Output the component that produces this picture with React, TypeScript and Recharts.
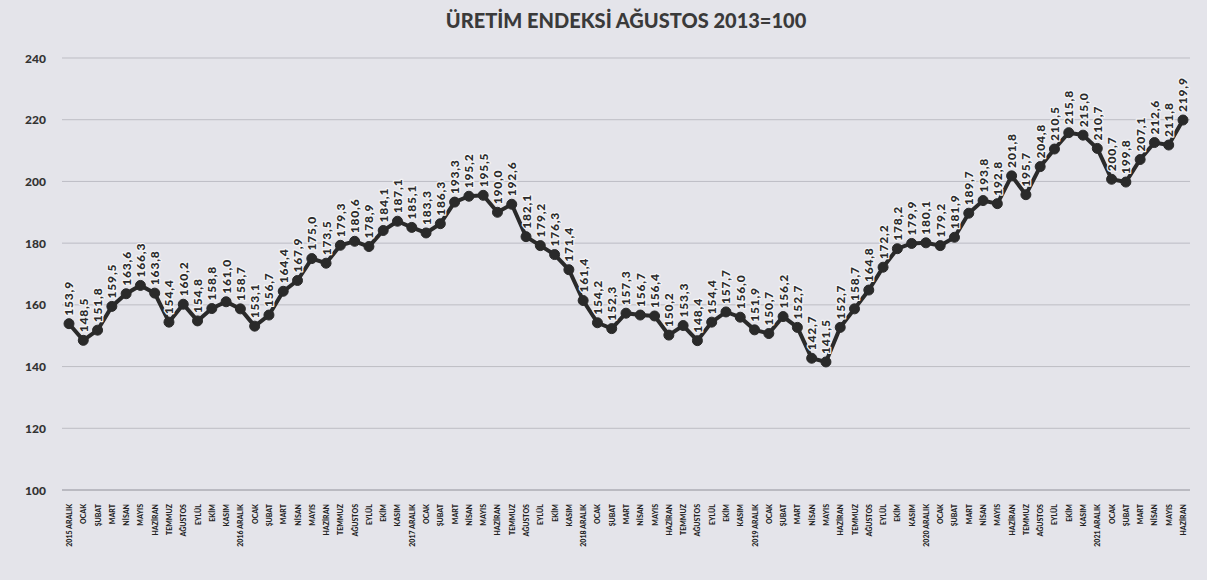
import { LineChart, Line, XAxis, YAxis, CartesianGrid, LabelList } from 'recharts';

// Üretim endeksi, Aralık 2015 - Haziran 2022 (Ağustos 2013=100)
const monthNames = ['OCAK', 'ŞUBAT', 'MART', 'NİSAN', 'MAYIS', 'HAZİRAN', 'TEMMUZ', 'AĞUSTOS', 'EYLÜL', 'EKİM', 'KASIM', 'ARALIK'];
const yearsWithDecember = [2015, 2016, 2017, 2018, 2019, 2020, 2021];

const indexValues = [
    153.9, 148.5, 151.8, 159.5, 163.6, 166.3, 163.8, 154.4, 160.2, 154.8, 158.8, 161.0, 158.7,
    153.1, 156.7, 164.4, 167.9, 175.0, 173.5, 179.3, 180.6, 178.9, 184.1, 187.1, 185.1,
    183.3, 186.3, 193.3, 195.2, 195.5, 190.0, 192.6, 182.1, 179.2, 176.3, 171.4, 161.4,
    154.2, 152.3, 157.3, 156.7, 156.4, 150.2, 153.3, 148.4, 154.4, 157.7, 156.0, 151.9,
    150.7, 156.2, 152.7, 142.7, 141.5, 152.7, 158.7, 164.8, 172.2, 178.2, 179.9, 180.1,
    179.2, 181.9, 189.7, 193.8, 192.8, 201.8, 195.7, 204.8, 210.5, 215.8, 215.0, 210.7,
    200.7, 199.8, 207.1, 212.6, 211.8, 219.9,
];

const yTicks = [100, 120, 140, 160, 180, 200, 220, 240];

// first point is 2015 ARALIK, then months run on from OCAK
const monthLabels = indexValues.map((_, i) => {
    const m = (i + 11) % 12;
    if (m === 11) return `${yearsWithDecember[Math.floor(i / 12)]} ${monthNames[m]}`;
    return monthNames[m];
});

const data = indexValues.map((value, i) => ({ month: monthLabels[i], value }));

const INK = '#2a2a2a';
const FONT = 'Lato, "Open Sans", sans-serif';

const fmt = (v: number) => v.toFixed(1).replace('.', ',');

function MonthTick({ x, y, payload }: any) {
    return (
        <text
            x={x}
            y={y + 6}
            transform={`rotate(-90, ${x}, ${y + 6})`}
            textAnchor="end"
            dominantBaseline="central"
            fontSize={7}
            fontWeight={900}
            fill="#222"
            fontFamily={FONT}
        >
            {payload.value}
        </text>
    );
}

function ValueTick({ x, y, payload }: any) {
    return (
        <text x={x - 8} y={y} textAnchor="end" dominantBaseline="central" fontSize={12} fontWeight={900} fill="#333" fontFamily={FONT}>
            {payload.value}
        </text>
    );
}

function PointLabel({ x, y, value }: any) {
    const ty = y - 8;
    return (
        <text
            x={x}
            y={ty}
            transform={`rotate(-90, ${x}, ${ty})`}
            textAnchor="start"
            dominantBaseline="central"
            fontSize={12}
            fontWeight={900}
            letterSpacing={0.8}
            fill="#2b2b2b"
            stroke="#f4f4f6"
            strokeWidth={2.5}
            strokeLinejoin="round"
            paintOrder="stroke"
            fontFamily={FONT}
        >
            {fmt(value)}
        </text>
    );
}

export default function App() {
    return (
        <div style={{ position: 'fixed', left: 0, top: 0, width: 1207, height: 580, background: '#e4e4ea', fontFamily: FONT }}>
            <div
                style={{
                    position: 'absolute',
                    top: 8,
                    left: 0,
                    width: 1252,
                    textAlign: 'center',
                    fontSize: 20,
                    fontWeight: 900,
                    color: '#3a3a3a',
                }}
            >
                ÜRETİM ENDEKSİ AĞUSTOS 2013=100
            </div>
            <LineChart width={1207} height={580} data={data} margin={{ top: 58, right: 17, left: 0, bottom: 0 }}>
                <CartesianGrid horizontal vertical={false} stroke="#bdbdc4" strokeWidth={1} />
                <XAxis
                    dataKey="month"
                    interval={0}
                    height={90}
                    padding={{ left: 7, right: 7 }}
                    tick={<MonthTick />}
                    tickLine={false}
                    axisLine={{ stroke: '#a4a4ac' }}
                />
                <YAxis
                    width={62}
                    domain={[100, 240]}
                    ticks={yTicks}
                    tick={<ValueTick />}
                    tickLine={false}
                    axisLine={false}
                />
                <Line
                    type="linear"
                    dataKey="value"
                    stroke={INK}
                    strokeWidth={4}
                    dot={{ r: 5, fill: INK, stroke: INK, strokeWidth: 1 }}
                    isAnimationActive={false}
                >
                    <LabelList dataKey="value" content={<PointLabel />} />
                </Line>
            </LineChart>
        </div>
    );
}
